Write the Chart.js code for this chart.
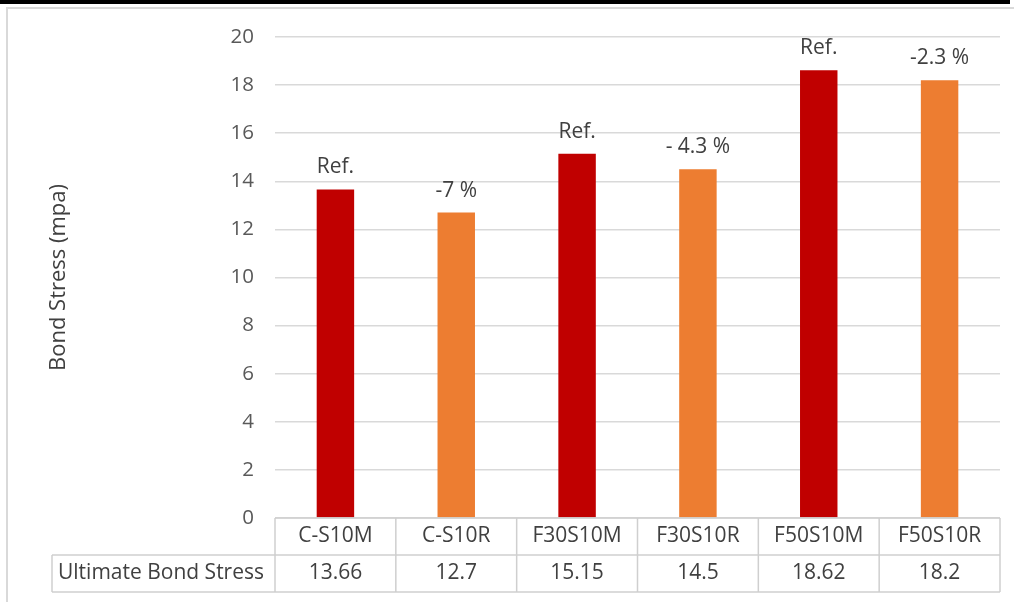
<!DOCTYPE html>
<html>
<head>
<meta charset="utf-8">
<script src="https://cdn.jsdelivr.net/npm/chart.js@4.4.1/dist/chart.umd.min.js"></script>
<style>
  html, body { margin: 0; padding: 0; background: #fff; }
  #wrap { position: relative; width: 1014px; height: 602px; }
</style>
</head>
<body>
<div id="wrap"><canvas id="c" width="1014" height="602"></canvas></div>
<script>
// Specimen names and measured ultimate bond stress (MPa)
const categories = ['C-S10M', 'C-S10R', 'F30S10M', 'F30S10R', 'F50S10M', 'F50S10R'];
const bondStress = [13.66, 12.7, 15.15, 14.5, 18.62, 18.2];
const barNotes = ['Ref.', '-7 %', 'Ref.', '- 4.3 %', 'Ref.', '-2.3 %'];
const tableLabels = ['13.66', '12.7', '15.15', '14.5', '18.62', '18.2'];
const seriesName = 'Ultimate Bond Stress';
const yTicks = [0, 2, 4, 6, 8, 10, 12, 14, 16, 18, 20];

const RED = '#C00000';
const ORANGE = '#ED7D31';
const FONT = '"Open Sans", Lato, sans-serif';
const GRID = '#d9d9d9';

// Labels over bars, the data table under the axis, and the outer frame
const extras = {
  id: 'extras',
  afterDraw(chart) {
    const ctx = chart.ctx;
    const x = chart.scales.x;
    const area = chart.chartArea;
    const meta = chart.getDatasetMeta(0);

    ctx.save();
    // bar notes
    ctx.font = '21px ' + FONT;
    ctx.fillStyle = '#404040';
    ctx.textAlign = 'center';
    ctx.textBaseline = 'alphabetic';
    meta.data.forEach((bar, i) => {
      ctx.fillText(barNotes[i], bar.x, bar.y - 16);
    });

    // data table
    const colW = (area.right - area.left) / categories.length;
    const row1Top = area.bottom;
    const row1Bot = area.bottom + 37;
    const row2Bot = area.bottom + 74;
    const labelLeft = 52;
    ctx.strokeStyle = '#cfcfcf';
    ctx.lineWidth = 1.5;
    ctx.beginPath();
    ctx.moveTo(area.left, row1Top); ctx.lineTo(area.right, row1Top);
    ctx.moveTo(labelLeft, row1Bot); ctx.lineTo(area.right, row1Bot);
    ctx.moveTo(labelLeft, row2Bot); ctx.lineTo(area.right, row2Bot);
    ctx.moveTo(labelLeft, row1Bot); ctx.lineTo(labelLeft, row2Bot);
    for (let i = 0; i <= categories.length; i++) {
      const px = area.left + i * colW;
      ctx.moveTo(px, row1Top); ctx.lineTo(px, row2Bot);
    }
    ctx.stroke();

    ctx.font = '21px ' + FONT;
    ctx.fillStyle = '#404040';
    ctx.textBaseline = 'middle';
    ctx.textAlign = 'center';
    categories.forEach((c, i) => {
      const cx = x.getPixelForValue(i);
      ctx.fillText(c, cx, (row1Top + row1Bot) / 2);
      ctx.fillText(tableLabels[i], cx, (row1Bot + row2Bot) / 2);
    });
    ctx.textAlign = 'left';
    ctx.fillText(seriesName, labelLeft + 6, (row1Bot + row2Bot) / 2);

    // outer frame
    ctx.strokeStyle = '#d9d9d9';
    ctx.lineWidth = 2;
    ctx.beginPath();
    ctx.moveTo(7, 602); ctx.lineTo(7, 8); ctx.lineTo(1014, 8);
    ctx.stroke();
    ctx.fillStyle = '#000';
    ctx.fillRect(0, 0, 1010, 4);
    ctx.restore();
  }
};

new Chart(document.getElementById('c'), {
  type: 'bar',
  data: {
    labels: categories,
    datasets: [{
      label: seriesName,
      data: bondStress,
      backgroundColor: [RED, ORANGE, RED, ORANGE, RED, ORANGE],
      barPercentage: 0.31,
      categoryPercentage: 1.0
    }]
  },
  options: {
    responsive: false,
    animation: false,
    devicePixelRatio: 1,
    layout: { padding: { top: 37, bottom: 84, right: 14, left: 0 } },
    plugins: {
      legend: { display: false },
      tooltip: { enabled: false }
    },
    scales: {
      x: { display: false },
      y: {
        min: 0,
        max: 20,
        afterFit(scale) { scale.width = 275; },
        ticks: {
          stepSize: 1,
          padding: 21,
          color: '#595959',
          font: { family: FONT, size: 20.5 },
          callback: (v) => (yTicks.includes(v) ? String(v) : '')
        },
        grid: { color: GRID, lineWidth: 1.5, drawTicks: false },
        border: { display: false },
        title: {
          display: true,
          text: 'Bond Stress (mpa)',
          color: '#404040',
          font: { family: FONT, size: 22 },
          padding: { top: 46, bottom: 0 }
        }
      }
    }
  },
  plugins: [extras]
});
</script>
</body>
</html>
